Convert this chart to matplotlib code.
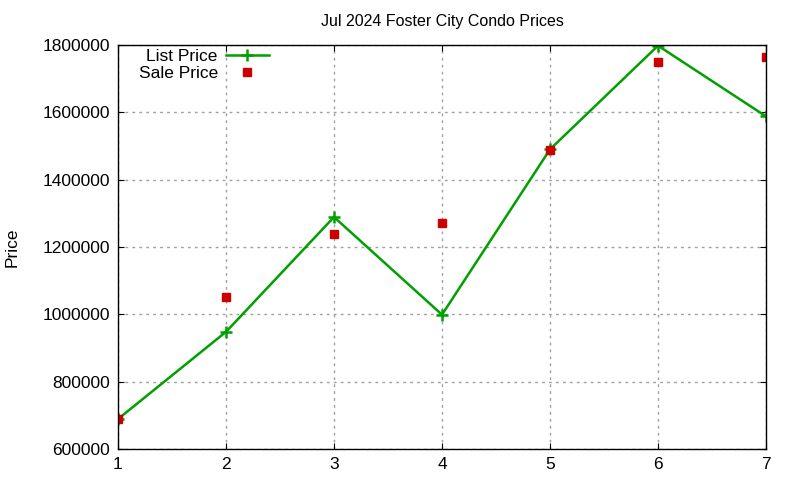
import matplotlib
matplotlib.use("Agg")
import matplotlib.pyplot as plt

x = [1, 2, 3, 4, 5, 6, 7]
list_price = [689000, 948000, 1289000, 999000, 1490000, 1798000, 1588000]
sale_price = [689000, 1051000, 1238000, 1272000, 1488000, 1750000, 1765000]
yticks = [600000, 800000, 1000000, 1200000, 1400000, 1600000, 1800000]

plt.rcParams['font.family'] = ['Liberation Sans', 'DejaVu Sans']
fig = plt.figure(figsize=(8, 4.8), dpi=100)
ax = fig.add_axes([118/800, 1 - 449/480, (766-118)/800, (449-45)/480])

ax.plot(x, list_price, color='#00a000', lw=1.8, marker='+', ms=8, mew=1.8, label='List Price')
ax.plot(x, sale_price, color='#cc0000', ls='none', marker='s', ms=6, label='Sale Price')

ax.set_xlim(1, 7)
ax.set_ylim(600000, 1800000)
ax.set_xticks(x)
ax.set_yticks(yticks)
ax.set_yticklabels([str(v) for v in yticks])
ax.tick_params(direction='in', labelsize=12.5, length=4, pad=6, top=True, right=True,
               labeltop=False, labelright=False)
ax.grid(True, color='#a0a0a0', ls=(0, (2, 3)), lw=1)
for s in ax.spines.values():
    s.set_linewidth(1)
ax.set_ylabel('Price', fontsize=12.5)
ax.yaxis.set_label_coords(-0.152, 0.5)
ax.set_title('Jul 2024 Foster City Condo Prices', fontsize=11.5, pad=14)

leg = ax.legend(loc='upper right', bbox_to_anchor=(0.233, 0.99), frameon=False, fontsize=12.5,
                markerfirst=False, handlelength=2.5, borderaxespad=0.0, borderpad=0.0,
                labelspacing=0.1, handletextpad=0.45)

fig.savefig('out.png', dpi=100)
